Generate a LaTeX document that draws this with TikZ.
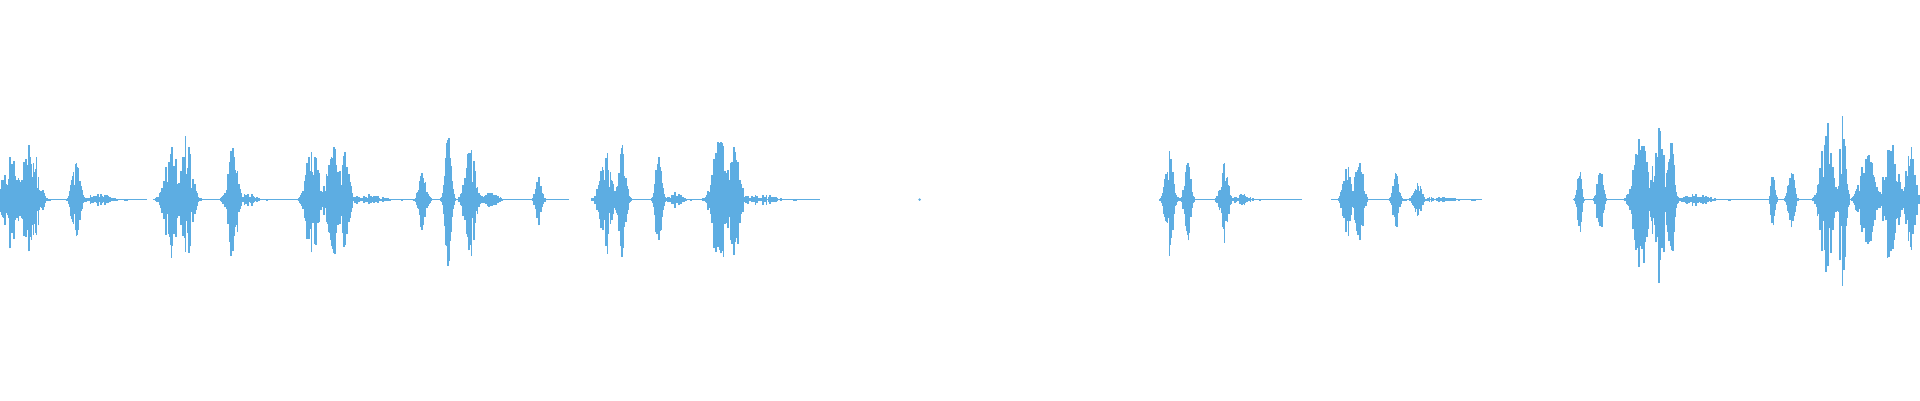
\documentclass[tikz,border=0pt]{standalone}
\definecolor{wavecol}{RGB}{93,173,226}
\tikzset{
  wave/.style={draw=wavecol, line width=0.5pt},
  tail/.style={draw=wavecol, line width=0.35pt}
}
\begin{document}
\begin{tikzpicture}[x=0.012245cm, y=0.012232cm]
  \pgfmathsetseed{42}
  \useasboundingbox (0,0) rectangle (1568,327);
  % quiet tails along the centre line
  \foreach \s/\e in {0/120, 130/465, 487/670, 948/1063, 1087/1210, 1285/1568}{
    \draw[tail] (\s,164) -- (\e,164);
  }
  \fill[wavecol] (751,164) circle (0.4pt);
  % bursts: centre / spread / height
  \foreach \c/\w/\a in {8/8/45, 25/8/50, 62/4/32, 80/12/5,
      140/7/45, 152/6/55, 190/5/45, 202/8/6,
      255/6/50, 272/6/55, 282/4/40, 300/14/5,
      345/4/22, 366/3/52, 384/5/52, 400/8/6, 440/3/20,
      495/6/40, 508/4/45, 538/3/42, 552/6/6,
      588/7/58, 600/5/50, 620/15/5,
      955/4/40, 970/3/35, 1000/4/30, 1015/7/5,
      1100/4/30, 1110/4/35, 1140/3/22, 1158/4/14, 1175/15/3,
      1290/2/28, 1307/3/30, 1340/7/55, 1355/6/62, 1365/3/55, 1385/14/5,
      1448/2/22, 1463/3/28, 1492/6/65, 1505/3/70, 1525/7/45, 1545/7/55, 1560/5/45}{
    \foreach \i in {-20,...,20}{
      \pgfmathsetmacro\x{\c+\i*\w/10}
      \pgfmathsetmacro\h{\a*exp(-(\i/10)^2)*(0.25+0.75*rnd)}
      \pgfmathsetmacro\k{\h*(0.8+0.4*rnd)}
      \draw[wave] (\x,164-\k) -- (\x,164+\h);
    }
  }
\end{tikzpicture}
\end{document}
